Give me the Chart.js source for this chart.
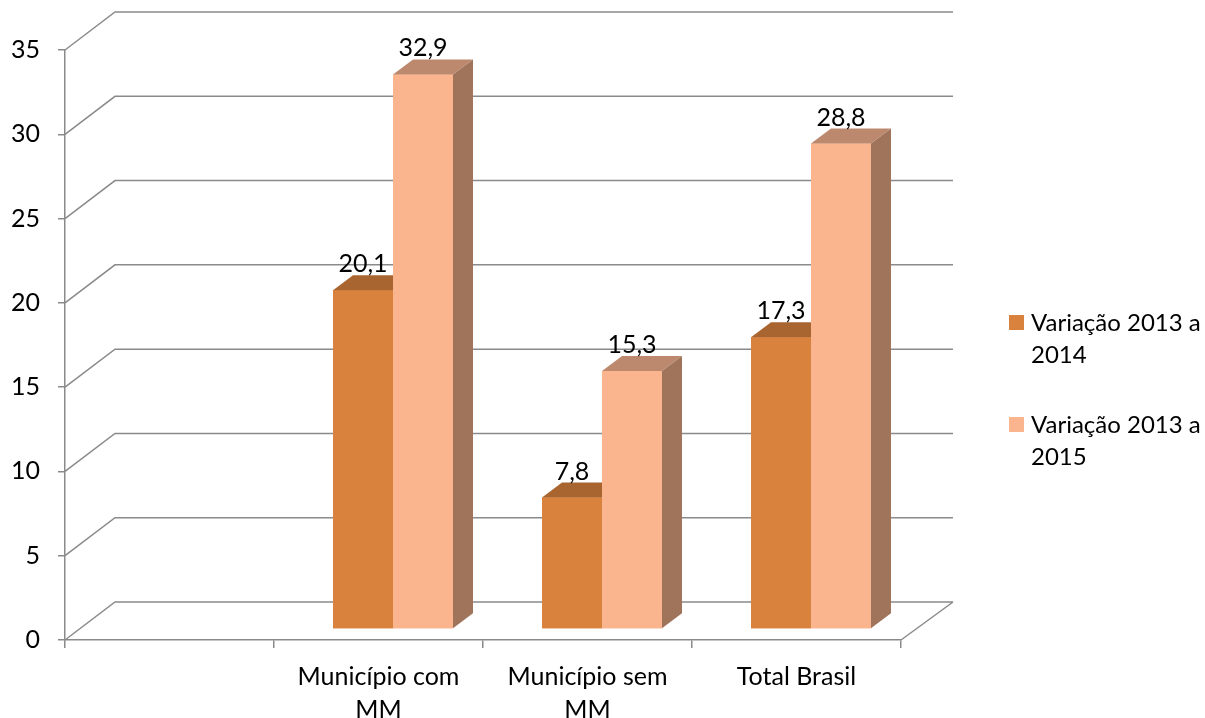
<!DOCTYPE html>
<html>
<head>
<meta charset="utf-8">
<script src="https://cdn.jsdelivr.net/npm/chart.js@4/dist/chart.umd.min.js"></script>
<style>
  html, body { margin: 0; padding: 0; background: #fff; }
  #grafico { display: block; }
</style>
</head>
<body>
<canvas id="grafico" width="1205" height="718"></canvas>
<script>
// dados
const categorias = ['', ['Município com', 'MM'], ['Município sem', 'MM'], 'Total Brasil'];
const variacao2014 = [null, 20.1, 7.8, 17.3];
const variacao2015 = [null, 32.9, 15.3, 28.8];
const nomesSeries = ['Variação 2013 a 2014', 'Variação 2013 a 2015'];
const ticksY = [0, 5, 10, 15, 20, 25, 30, 35];

// aparência
const fonte = 'Lato, "Open Sans", sans-serif';
const tamFonte = 25;
const tamLegenda = 24;
const corGrade = '#8a8a8a';
const cores = [
  { frente: '#D9823E', topo: '#A86530', lado: '#8C5428' },
  { frente: '#FAB58F', topo: '#BD896E', lado: '#A0745A' }
];
const fundo = { dx: 52, dy: -38 };        // parede do fundo
const planoBarras = { dx: 14.5, dy: -11 }; // face da frente das colunas
const prof = { dx: 20, dy: -15 };         // profundidade das colunas

const formata = v => v.toFixed(1).replace('.', ',');

// caixa 3D (paredes, piso) e faces extras das colunas
const caixa3d = {
  id: 'caixa3d',
  beforeDatasetsDraw(chart) {
    const { ctx, chartArea: a, scales: { y } } = chart;
    ctx.save();
    ctx.strokeStyle = corGrade;
    ctx.lineWidth = 1.5;
    ctx.beginPath();
    ticksY.forEach(v => {
      const py = y.getPixelForValue(v);
      ctx.moveTo(a.left, py);
      ctx.lineTo(a.left + 50, py + fundo.dy);
      ctx.lineTo(a.right + fundo.dx, py + fundo.dy);
    });
    const y0 = y.getPixelForValue(0);
    ctx.moveTo(a.right + fundo.dx, y0 + fundo.dy);
    ctx.lineTo(a.right, y0);
    ctx.stroke();
    ctx.restore();

    // as colunas ficam um pouco para dentro do piso
    ctx.save();
    ctx.translate(planoBarras.dx, planoBarras.dy);
  },
  afterDatasetsDraw(chart) {
    const { ctx } = chart;
    chart.data.datasets.forEach((ds, i) => {
      const c = cores[i];
      chart.getDatasetMeta(i).data.forEach((bar, j) => {
        if (ds.data[j] == null) return;
        const { x, y, base, width } = bar.getProps(['x', 'y', 'base', 'width'], true);
        const l = x - width / 2, r = x + width / 2;
        ctx.fillStyle = c.frente;
        ctx.fillRect(l, y, width, base - y);
        ctx.fillStyle = c.topo;
        ctx.beginPath();
        ctx.moveTo(l, y);
        ctx.lineTo(l + prof.dx, y + prof.dy);
        ctx.lineTo(r + prof.dx, y + prof.dy);
        ctx.lineTo(r, y);
        ctx.closePath();
        ctx.fill();
        ctx.fillStyle = c.lado;
        ctx.beginPath();
        ctx.moveTo(r, y);
        ctx.lineTo(r + prof.dx, y + prof.dy);
        ctx.lineTo(r + prof.dx, base + prof.dy);
        ctx.lineTo(r, base);
        ctx.closePath();
        ctx.fill();
      });
    });
    // rótulos de valor
    ctx.fillStyle = '#000';
    ctx.font = tamFonte + 'px ' + fonte;
    ctx.textAlign = 'center';
    ctx.textBaseline = 'alphabetic';
    chart.data.datasets.forEach((ds, i) => {
      chart.getDatasetMeta(i).data.forEach((bar, j) => {
        if (ds.data[j] == null) return;
        ctx.fillText(formata(ds.data[j]), bar.x, bar.y + prof.dy - 3);
      });
    });
    ctx.restore();
  },
  afterDraw(chart) {
    const { ctx } = chart;
    ctx.save();
    ctx.font = tamLegenda + 'px ' + fonte;
    ctx.textBaseline = 'middle';
    ctx.textAlign = 'left';
    const topos = [323, 425];
    chart.data.datasets.forEach((ds, i) => {
      ctx.fillStyle = cores[i].frente;
      ctx.fillRect(1009, topos[i] - 8, 15, 15);
      // quebra de linha simples
      const linhas = [];
      let atual = '';
      ds.label.split(' ').forEach(p => {
        const t = atual ? atual + ' ' + p : p;
        if (ctx.measureText(t).width > 185 && atual) { linhas.push(atual); atual = p; }
        else atual = t;
      });
      linhas.push(atual);
      ctx.fillStyle = '#000';
      linhas.forEach((ln, k) => ctx.fillText(ln, 1031, topos[i] + k * 32));
    });
    ctx.restore();
  }
};

new Chart(document.getElementById('grafico'), {
  type: 'bar',
  data: {
    labels: categorias,
    datasets: [
      { label: nomesSeries[0], data: variacao2014, backgroundColor: cores[0].frente },
      { label: nomesSeries[1], data: variacao2015, backgroundColor: cores[1].frente }
    ]
  },
  options: {
    responsive: false,
    animation: false,
    devicePixelRatio: 1,
    events: [],
    layout: { padding: { top: 50, right: 304, bottom: 0, left: 0 } },
    datasets: { bar: { categoryPercentage: 0.574, barPercentage: 1, clip: false } },
    plugins: { legend: { display: false }, tooltip: { enabled: false } },
    scales: {
      x: {
        offset: true,
        grid: { offset: true, drawOnChartArea: false, drawTicks: true, tickLength: 8, color: corGrade, lineWidth: 1.5 },
        border: { display: true, color: corGrade, width: 1.5 },
        ticks: { color: '#000', font: { family: fonte, size: tamFonte, lineHeight: 1.3 }, padding: 13, maxRotation: 0, autoSkip: false },
        afterFit(s) { s.height = 78; }
      },
      y: {
        min: 0, max: 35,
        afterBuildTicks(s) { s.ticks = ticksY.map(v => ({ value: v })); },
        grid: { drawOnChartArea: false, drawTicks: true, tickLength: 7, color: corGrade, lineWidth: 1.5 },
        border: { display: true, color: corGrade, width: 1.5 },
        ticks: { color: '#000', font: { family: fonte, size: tamFonte }, padding: 18 },
        afterFit(s) { s.width = 65; }
      }
    }
  },
  plugins: [caixa3d]
});
</script>
</body>
</html>
